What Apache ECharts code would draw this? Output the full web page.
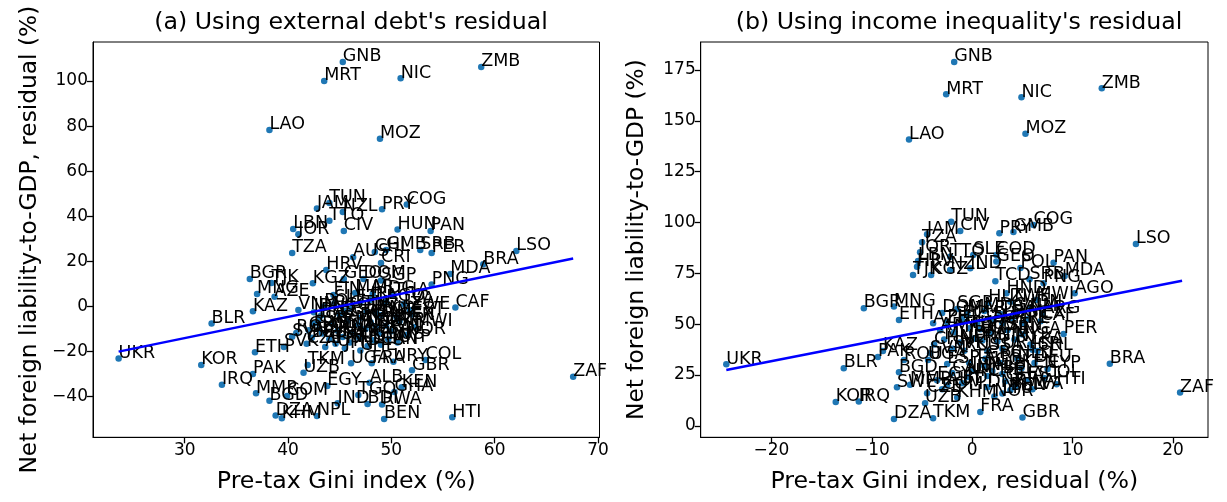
<!DOCTYPE html>
<html>
<head>
<meta charset="utf-8">
<script src="https://cdn.jsdelivr.net/npm/echarts@6/dist/echarts.min.js"></script>
<style>
html,body{margin:0;padding:0;background:#fff;}
#c{width:1227px;height:502px;}
</style>
</head>
<body>
<div id="c"></div>
<script>
// Country codes
const countries = ["GNB","MRT","NIC","ZMB","LAO","MOZ","TUN","JAM","NZL","TTO","PRY","COG","CIV","HUN","PAN","LBN","JOR","TZA","AUS","CHL","GMB","SRB","PER","CRI","LSO","BRA","MDA","PNG","CAF","HRV","BGR","TJK","KGZ","MNG","AZE","KAZ","BLR","UKR","ETH","KOR","PAK","IRQ","MMR","BGD","COM","DZA","KHM","NPL","TKM","UZB","EGY","IND","SVN","ROU","SVK","ZAF","HTI","BEN","GBR","COL","UGA","FRA","URY","ALB","KEN","TGO","GHA","BDI","RWA","SWE","FIN","HND","AGO","TCD","COD","SLE","MWI","ZWE","GEO","POL",
"DOM","SGP","MAR","MDG","THA","VNM","IDN","PHL","ECU","GTM","SLV","BOL","MEX","ARG","ARM","MKD","TUR","CMR","SEN","NGA","MLI","NER","BFA","GIN","MYS","LKA","CHN","RUS","USA","ISR","ESP","ITA","GRC","PRT","NLD","DEU","CAN","JPN","CHE","BEL","AUT","DNK","NOR","CZE","EST","LVA","LTU","IRL","CYP"];

// Panel (a): Pre-tax Gini index (%)
const giniIndex = [45.3,43.5,50.9,58.7,38.2,48.9,44.0,42.8,45.3,44.0,49.1,51.5,45.4,50.6,53.8,40.5,41.0,40.4,46.3,48.4,49.5,52.8,53.9,49.0,62.1,58.9,55.7,53.9,56.2,43.7,36.3,38.4,42.4,37.0,38.7,36.6,32.6,23.6,36.8,31.6,36.6,33.6,36.9,38.2,39.9,38.8,39.4,42.8,41.9,41.5,43.8,44.8,40.4,40.8,39.6,67.6,55.9,49.3,52.0,53.3,46.1,48.1,50.2,47.9,51.0,46.8,50.3,47.7,49.1,43.0,44.4,48.5,49.5,47.0,45.5,44.5,52.3,51.8,45.4,43.5,
47.3,49.0,46.5,48.2,50.2,41.0,42.5,43.2,45.0,46.0,47.6,49.0,50.5,45.8,44.2,46.8,48.0,49.5,50.8,44.8,46.2,47.5,48.8,50.0,45.3,46.9,48.2,49.7,44.0,43.3,42.5,43.0,42.0,44.6,46.0,47.7,49.0,45.5,47.0,42.3,43.6,48.5,51.5,41.8,52.0,51.2,47.0,48.0,50.6];
// Panel (a): Net foreign liability-to-GDP, residual (%)
const liabResidual = [108.4,100.0,101.2,106.2,78.3,74.4,45.9,43.5,41.9,38.0,43.1,45.2,33.5,34.2,33.5,34.4,32.0,23.7,21.9,24.2,25.1,25.1,23.7,19.3,24.6,18.7,14.4,9.8,-0.4,16.2,12.2,10.4,10.3,5.5,4.3,-2.1,-7.5,-23.1,-20.3,-25.9,-29.9,-34.7,-38.5,-41.8,-39.7,-48.3,-49.6,-48.6,-25.9,-29.4,-35.3,-42.9,-13.4,-11.8,-18.0,-31.1,-49.1,-49.9,-28.3,-23.7,-25.2,-25.2,-24.5,-33.8,-35.8,-39.2,-37.9,-43.2,-43.4,-10.0,5.1,-3.0,2.0,-5.0,-2.0,1.5,-9.1,-1.6,12.2,0.0,
12.2,11.5,6.0,5.5,5.0,-1.5,-2.5,-4.0,-3.5,-1.0,-2.3,-3.8,-4.8,-6.2,-7.5,-8.0,-7.0,-8.5,-6.5,-10.8,-11.5,-10.0,-12.0,-11.0,-13.5,-14.0,-15.0,-14.5,-14.5,-12.0,-7.5,-5.5,-10.5,-16.5,-16.0,-17.5,-17.0,-18.5,-19.5,-13.8,-18.0,-9.0,-12.5,-16.5,-3.5,1.0,1.8,3.0,-16.0];
// Panel (b): Pre-tax Gini index, residual (%)
const giniResidual = [-1.8,-2.6,4.9,12.9,-6.3,5.3,-2.1,-4.5,-2.2,-2.2,2.7,6.1,-1.2,1.6,8.1,-5.4,-5.2,-5.0,0.8,6.5,4.1,5.7,9.1,3.0,16.3,13.7,9.2,7.1,6.8,-5.5,-10.8,-5.9,-4.1,-7.8,-3.9,-8.9,-12.8,-24.5,-7.3,-13.6,-9.4,-11.3,-6.2,-7.3,-3.0,-7.8,-1.5,-0.5,-3.9,-4.7,-3.5,-0.2,-4.2,-6.8,-2.0,20.7,8.4,3.8,5.0,7.2,-4.4,0.8,3.0,2.0,4.9,1.2,3.3,-1.0,4.3,-7.5,1.0,3.4,10.2,2.3,2.4,0.1,6.4,3.8,2.4,4.8,
-3.0,-1.5,-0.5,1.2,2.8,4.5,5.8,-2.5,-1.0,0.5,2.0,4.0,5.5,7.0,-3.2,-1.8,-0.3,1.8,3.5,5.0,-2.8,-1.2,0.2,2.5,4.2,5.8,-3.8,-0.8,1.5,6.0,-2.5,-0.3,1.3,2.8,4.5,6.2,-2.0,0.0,1.5,3.0,-2.5,1.5,2.2,-4.5,5.5,6.0,3.0,5.0,7.5];
// Panel (b): Net foreign liability-to-GDP (%)
const liability = [179.0,163.1,161.6,166.0,140.8,143.7,100.4,94.2,76.7,83.2,94.7,98.8,95.9,60.5,80.3,81.1,85.4,90.3,47.5,36.9,95.4,72.1,45.2,50.5,89.5,30.6,73.7,70.2,51.5,78.3,57.9,74.2,74.2,58.7,50.5,36.9,28.4,30.3,52.1,11.7,33.9,12.0,20.2,26.4,18.0,3.4,14.0,24.0,3.8,11.2,22.5,77.5,35.7,32.4,38.0,16.4,20.5,17.5,4.1,23.5,32.4,6.9,38.0,27.0,28.4,29.5,22.0,21.0,19.5,19.0,42.0,65.2,65.2,71.2,84.1,84.1,61.9,61.1,80.8,77.7,
55.5,57.5,55.0,56.5,55.0,56.0,58.0,51.0,52.5,50.5,52.0,53.0,52.5,55.0,47.0,46.0,48.0,45.5,47.0,45.0,42.5,41.0,43.0,41.5,42.5,40.0,40.0,37.0,37.0,37.5,30.5,31.0,33.0,31.0,33.0,31.0,26.0,27.0,24.5,25.5,20.0,19.0,14.5,16.1,22.5,18.0,16.0,50.5,28.0];

// Fitted lines (endpoints)
const fitA_x = [23.6, 67.6];
const fitA_y = [-20.0, 21.3];
const fitB_x = [-24.5, 20.9];
const fitB_y = [27.5, 71.4];

// Tick values
const ticksAx = [30, 40, 50, 60, 70];
const ticksAy = [-40, -20, 0, 20, 40, 60, 80, 100];
const ticksBx = [-20, -10, 0, 10, 20];
const ticksBy = [0, 25, 50, 75, 100, 125, 150, 175];

const FONT = 'DejaVu Sans';
const BIG = 23.7;
const fmt = v => String(v).replace('-', '\u2212');

function xAxisCfg(grid, min, max, ticks, name) {
  return {
    type: 'value', gridIndex: grid, min: min, max: max,
    axisLine: {show: true, onZero: false, lineStyle: {color: '#000', width: 1}},
    axisTick: {show: true, length: 6, customValues: ticks, lineStyle: {color: '#000', width: 1.3}},
    axisLabel: {customValues: ticks, formatter: fmt, color: '#000', fontSize: 17, fontFamily: FONT, margin: 5},
    splitLine: {show: false},
    name: name, nameLocation: 'middle', nameGap: 33,
    nameTextStyle: {color: '#000', fontSize: BIG, fontFamily: FONT}
  };
}
function yAxisCfg(grid, min, max, ticks, name) {
  return {
    type: 'value', gridIndex: grid, min: min, max: max,
    axisLine: {show: true, onZero: false, lineStyle: {color: '#000', width: 1}},
    axisTick: {show: true, length: 6, customValues: ticks, lineStyle: {color: '#000', width: 1.3}},
    axisLabel: {customValues: ticks, formatter: fmt, color: '#000', fontSize: 17, fontFamily: FONT, margin: 5},
    splitLine: {show: false},
    name: name, nameLocation: 'middle', nameGap: 52,
    nameTextStyle: {color: '#000', fontSize: 23.3, fontFamily: FONT}
  };
}

function pts(xs, ys) {
  return countries.map((c, i) => [xs[i], ys[i], c]);
}
function scatter(idx, xs, ys) {
  return {
    type: 'scatter', xAxisIndex: idx, yAxisIndex: idx,
    data: pts(xs, ys), symbolSize: 6.5,
    itemStyle: {color: '#1f77b4', opacity: 1},
    label: {show: true, position: [3.25, 7], align: 'left', verticalAlign: 'bottom',
      formatter: p => p.value[2], color: '#000', fontSize: 17.5, fontFamily: FONT},
    emphasis: {disabled: true}, z: 2
  };
}
function fitLine(idx, xs, ys) {
  return {
    type: 'line', xAxisIndex: idx, yAxisIndex: idx,
    data: xs.map((x, i) => [x, ys[i]]), showSymbol: false, symbol: 'none',
    lineStyle: {color: '#0000ff', width: 2.5}, emphasis: {disabled: true}, z: 3
  };
}

const chart = echarts.init(document.getElementById('c'), null, {renderer: 'canvas'});
chart.setOption({
  animation: false,
  backgroundColor: '#fff',
  title: [
    {text: "(a) Using external debt's residual", left: 346, top: 6, textAlign: 'center',
     textStyle: {fontSize: BIG, fontWeight: 'normal', fontFamily: FONT, color: '#000'}},
    {text: "(b) Using income inequality's residual", left: 954, top: 6, textAlign: 'center',
     textStyle: {fontSize: BIG, fontWeight: 'normal', fontFamily: FONT, color: '#000'}}
  ],
  grid: [
    {left: 93, right: 627.5, top: 42, bottom: 64.7, show: true, borderColor: '#000', borderWidth: 1},
    {left: 700.7, right: 19, top: 42, bottom: 64.7, show: true, borderColor: '#000', borderWidth: 1}
  ],
  xAxis: [
    xAxisCfg(0, 21.12, 70.15, ticksAx, 'Pre-tax Gini index (%)'),
    xAxisCfg(1, -27.05, 23.48, ticksBx, 'Pre-tax Gini index, residual (%)')
  ],
  yAxis: [
    yAxisCfg(0, -58.0, 117.3, ticksAy, 'Net foreign liability-to-GDP, residual (%)'),
    yAxisCfg(1, -5.6, 188.8, ticksBy, 'Net foreign liability-to-GDP (%)')
  ],
  series: [
    scatter(0, giniIndex, liabResidual),
    fitLine(0, fitA_x, fitA_y),
    scatter(1, giniResidual, liability),
    fitLine(1, fitB_x, fitB_y)
  ]
});
</script>
</body>
</html>
